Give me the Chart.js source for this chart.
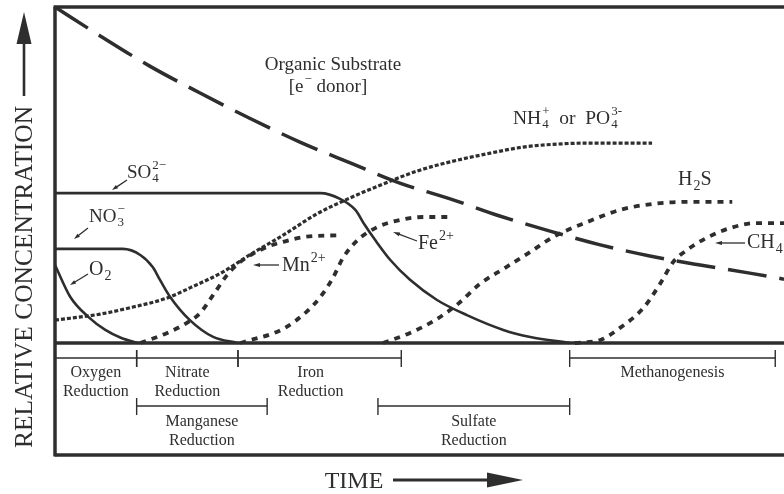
<!DOCTYPE html>
<html><head><meta charset="utf-8">
<script src="https://cdn.jsdelivr.net/npm/chart.js@4.4.1/dist/chart.umd.min.js"></script>
<style>html,body{margin:0;padding:0;background:#fff;}canvas{display:block;}</style>
</head><body>
<canvas id="c" width="784" height="494"></canvas>
<script>
// ---- Data: time (relative units, 0..100) and relative concentration (0..100) ----
const organicT = [0, 6.2, 13.0, 19.9, 26.7, 33.6, 40.5, 47.3, 54.2, 61.0, 67.9, 74.8, 81.6, 88.5, 95.3, 100];
const organicC = [100, 91.4, 82.4, 74.4, 66.9, 59.8, 53.6, 47.6, 42.9, 37.8, 33.3, 29.2, 25.9, 23.2, 20.8, 19.0];

const so4T = [0, 36.4, 39.1, 41.2, 42.5, 43.9, 46.0, 48.7, 52.4, 56.5, 61.5, 65.2, 70.6];
const so4C = [44.6, 44.6, 42.9, 39.6, 35.1, 30.7, 24.7, 18.8, 12.8, 8.3, 3.9, 1.8, 0];

const no3T = [0, 9.3, 11.7, 13.4, 14.4, 15.8, 18.5, 21.7, 25.0];
const no3C = [28.0, 28.0, 26.2, 22.6, 18.8, 13.7, 6.8, 1.8, 0];

const o2T = [0, 2.1, 4.6, 6.9, 9.1, 11.4];
const o2C = [23.2, 13.7, 7.7, 3.9, 1.5, 0];

const nh4T = [0, 6.2, 10.7, 15.4, 18.5, 23.0, 26.7, 31.3, 35.9, 40.5, 45.0, 49.7, 54.2, 59.7, 64.2, 68.9, 73.4, 81.9];
const nh4C = [6.8, 8.6, 10.7, 13.4, 16.4, 21.1, 26.2, 32.1, 38.4, 43.2, 47.3, 51.2, 53.9, 56.5, 58.3, 59.2, 59.5, 59.5];

const mnT = [11.7, 15.4, 18.1, 19.9, 21.7, 23.6, 25.4, 29.1, 31.3, 34.0, 39.1];
const mnC = [0, 3.0, 6.0, 8.9, 14.3, 20.2, 24.1, 28.6, 30.1, 31.5, 32.1];

const feT = [25.4, 31.3, 34.6, 36.4, 38.1, 39.5, 41.4, 44.2, 47.3, 50.5, 54.6];
const feC = [0, 4.2, 9.5, 13.7, 19.3, 25.3, 30.4, 34.5, 36.6, 37.5, 37.5];

const h2sT = [45.0, 48.7, 51.9, 55.1, 58.3, 61.7, 65.2, 68.3, 73.0, 77.5, 82.0, 87.1, 92.9];
const h2sC = [0, 3.0, 6.5, 11.3, 17.6, 22.3, 27.1, 31.5, 36.0, 39.6, 41.4, 42.0, 42.0];

const ch4T = [71.3, 74.8, 77.5, 80.7, 83.0, 84.8, 86.7, 89.4, 92.6, 96.3, 100];
const ch4C = [0, 0.9, 4.5, 10.4, 17.6, 24.1, 27.7, 31.3, 34.2, 35.7, 35.7];

// Redox zones (time ranges) and their row under the axis
const zoneNames = ['Oxygen\nReduction', 'Nitrate\nReduction', 'Iron\nReduction', 'Methanogenesis', 'Manganese\nReduction', 'Sulfate\nReduction'];
const zoneStart = [0, 11.2, 25.1, 70.6, 11.2, 44.3];
const zoneEnd   = [11.2, 25.1, 47.5, 98.8, 29.1, 70.6];
const zoneRow   = [0, 0, 0, 0, 1, 1];

// ---- Chart ----
const INK = '#2e2e2e';
const FONT = '"Liberation Serif", "DejaVu Serif", serif';
function pts(T, C) { return T.map((t, i) => ({ x: t, y: C[i] })); }
function ds(T, C, w, dash) {
  return { data: pts(T, C), borderColor: INK, borderWidth: w, borderDash: dash,
    borderCapStyle: 'butt', cubicInterpolationMode: 'monotone', pointRadius: 0, fill: false, clip: 4 };
}
const DOT = [4, 2], DASH = [6, 6];

function rich(ctx, x, y, parts, size, align) {
  const big = size + 'px ' + FONT, small = Math.round(size * 0.68) + 'px ' + FONT;
  let w = 0;
  const ws = parts.map(p => {
    const [txt, kind] = p;
    if (kind === 'n') { ctx.font = big; return ctx.measureText(txt).width; }
    ctx.font = small;
    if (kind === 'ss') return Math.max(ctx.measureText(txt[0]).width, ctx.measureText(txt[1]).width) + 1;
    return ctx.measureText(txt).width + 1;
  });
  w = ws.reduce((a, b) => a + b, 0);
  let cx = align === 'center' ? x - w / 2 : x;
  ctx.textAlign = 'left'; ctx.textBaseline = 'middle'; ctx.fillStyle = INK;
  parts.forEach((p, i) => {
    const [txt, kind] = p;
    if (kind === 'n') { ctx.font = big; ctx.fillText(txt, cx, y); }
    else {
      ctx.font = small;
      if (kind === 'sub') ctx.fillText(txt, cx + 1, y + size * 0.3);
      else if (kind === 'sup') ctx.fillText(txt, cx + 1, y - size * 0.38);
      else { ctx.fillText(txt[0], cx + 1, y + size * 0.3); ctx.fillText(txt[1], cx + 1, y - size * 0.38); }
    }
    cx += ws[i];
  });
}
function arrow(ctx, x1, y1, x2, y2, hl, hw, lw) {
  const a = Math.atan2(y2 - y1, x2 - x1);
  ctx.strokeStyle = INK; ctx.fillStyle = INK; ctx.lineWidth = lw;
  ctx.beginPath(); ctx.moveTo(x1, y1);
  ctx.lineTo(x2 - Math.cos(a) * hl * 0.8, y2 - Math.sin(a) * hl * 0.8); ctx.stroke();
  ctx.beginPath(); ctx.moveTo(x2, y2);
  ctx.lineTo(x2 - Math.cos(a) * hl - Math.sin(a) * hw / 2, y2 - Math.sin(a) * hl + Math.cos(a) * hw / 2);
  ctx.lineTo(x2 - Math.cos(a) * hl + Math.sin(a) * hw / 2, y2 - Math.sin(a) * hl - Math.cos(a) * hw / 2);
  ctx.closePath(); ctx.fill();
}
function line(ctx, x1, y1, x2, y2, lw) {
  ctx.strokeStyle = INK; ctx.lineWidth = lw; ctx.setLineDash([]);
  ctx.beginPath(); ctx.moveTo(x1, y1); ctx.lineTo(x2, y2); ctx.stroke();
}

const decor = {
  id: 'decor',
  afterDraw(chart) {
    const ctx = chart.ctx, a = chart.chartArea, xs = chart.scales.x;
    ctx.save();
    const boxBottom = a.bottom + 112;
    // frame
    line(ctx, a.left - 1.5, a.top, 800, a.top, 3.5);
    line(ctx, a.left, a.top, a.left, boxBottom + 1.5, 3.5);
    line(ctx, a.left, a.bottom, 800, a.bottom, 3.5);
    line(ctx, a.left, boxBottom, 800, boxBottom, 3.5);
    // zones
    const rowY = [a.bottom + 15, a.bottom + 63];
    const labY = [a.bottom + 30, a.bottom + 79];
    zoneNames.forEach((nm, i) => {
      const x1 = xs.getPixelForValue(zoneStart[i]), x2 = xs.getPixelForValue(zoneEnd[i]);
      const y = rowY[zoneRow[i]];
      line(ctx, x1, y, x2, y, 1.4);
      if (zoneStart[i] > 0) line(ctx, x1, y - 8, x1, y + 9, 1.4);
      line(ctx, x2, y - 8, x2, y + 9, 1.4);
      const lines = nm.split('\n');
      ctx.font = '16px ' + FONT; ctx.fillStyle = INK; ctx.textAlign = 'center'; ctx.textBaseline = 'middle';
      let cx = (x1 + x2) / 2; if (nm.startsWith('Iron')) cx -= 9;
      lines.forEach((t, k) => ctx.fillText(t, cx, labY[zoneRow[i]] + k * 18.5));
    });
    // axis titles
    ctx.save();
    ctx.translate(24, 277); ctx.rotate(-Math.PI / 2);
    ctx.font = '25.5px ' + FONT; ctx.fillStyle = INK; ctx.textAlign = 'center'; ctx.textBaseline = 'middle';
    ctx.fillText('RELATIVE CONCENTRATION', 0, 1);
    ctx.restore();
    arrow(ctx, 24, 96, 24, 12, 32, 15, 2.6);
    ctx.font = '24px ' + FONT; ctx.fillStyle = INK; ctx.textAlign = 'center'; ctx.textBaseline = 'middle';
    ctx.fillText('TIME', 354, 482);
    arrow(ctx, 393, 480, 523, 480, 36, 15, 3);
    // curve labels
    rich(ctx, 333, 65, [['Organic Substrate', 'n']], 19, 'center');
    rich(ctx, 328, 87, [['[e', 'n'], ['\u2212', 'sup'], [' donor]', 'n']], 19, 'center');
    rich(ctx, 513, 119, [['NH', 'n'], [['4', '+'], 'ss'], ['  or  PO', 'n'], [['4', '3-'], 'ss']], 19.5, 'left');
    rich(ctx, 678, 180, [['H', 'n'], ['2', 'sub'], ['S', 'n']], 20, 'left');
    rich(ctx, 127, 173, [['SO', 'n'], [['4', '2\u2212'], 'ss']], 19, 'left');
    arrow(ctx, 127, 180, 112, 190, 6, 4, 1.3);
    rich(ctx, 89, 217, [['NO', 'n'], [['3', '\u2212'], 'ss']], 19, 'left');
    arrow(ctx, 88, 228, 74, 239, 6, 4, 1.3);
    rich(ctx, 89, 270, [['O', 'n'], ['2', 'sub']], 20, 'left');
    arrow(ctx, 88, 274, 70, 285, 6, 4, 1.3);
    arrow(ctx, 279, 265, 253, 265, 7, 4, 1.3);
    rich(ctx, 282, 266, [['Mn', 'n'], ['2+', 'sup']], 20, 'left');
    arrow(ctx, 417, 241, 393, 232, 7, 4, 1.3);
    rich(ctx, 418, 244, [['Fe', 'n'], ['2+', 'sup']], 20, 'left');
    arrow(ctx, 745, 243, 715, 243, 7, 4, 1.3);
    rich(ctx, 747, 243, [['CH', 'n'], ['4', 'sub']], 20, 'left');
    ctx.restore();
  }
};

new Chart(document.getElementById('c'), {
  type: 'line',
  data: { datasets: [
    ds(organicT, organicC, 3.5, [39, 13]),
    ds(so4T, so4C, 2.6, []),
    ds(no3T, no3C, 2.6, []),
    ds(o2T, o2C, 2.6, []),
    ds(nh4T, nh4C, 3.2, DOT),
    ds(mnT, mnC, 3.8, DASH),
    ds(feT, feC, 3.8, DASH),
    ds(h2sT, h2sC, 3.8, DASH),
    ds(ch4T, ch4C, 3.8, DASH)
  ] },
  options: {
    responsive: false, animation: false, devicePixelRatio: 1,
    layout: { padding: { left: 55, top: 7, right: 0, bottom: 151 } },
    scales: {
      x: { type: 'linear', min: 0, max: 100, display: false },
      y: { min: 0, max: 100, display: false }
    },
    plugins: { legend: { display: false }, tooltip: { enabled: false } },
    events: []
  },
  plugins: [decor]
});
</script>
</body></html>
